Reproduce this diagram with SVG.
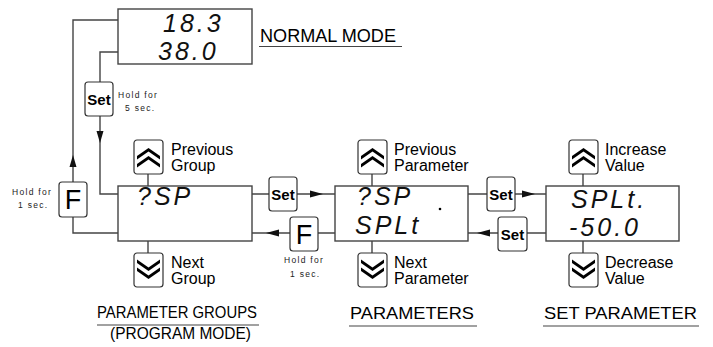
<svg xmlns="http://www.w3.org/2000/svg" xmlns:xlink="http://www.w3.org/1999/xlink" width="713" height="347" viewBox="0 0 713 347">
<style>
.box{fill:#fff;stroke:#444;stroke-width:1.4}
.btn{fill:#fff;stroke:#333;stroke-width:1.2}
.ln{fill:none;stroke:#444;stroke-width:1.4}
.seg{font-family:"Liberation Sans",Arial,sans-serif;font-style:italic;font-size:25px;fill:#111;letter-spacing:3px}
.lbl{font-family:"Liberation Sans",Arial,sans-serif;font-size:16px;fill:#000}
.cap{font-family:"Liberation Sans",Arial,sans-serif;font-size:16.5px;fill:#000}
.hold{font-family:"Liberation Sans",Arial,sans-serif;font-size:8.5px;fill:#222;letter-spacing:1.3px}
.set{font-family:"Liberation Sans",Arial,sans-serif;font-size:15px;font-weight:bold;fill:#000;text-anchor:middle}
.f{font-family:"Liberation Sans",Arial,sans-serif;font-size:27px;fill:#000;text-anchor:middle}
.ul{stroke:#444;stroke-width:1.2}
.ah{fill:#111}
</style>
<defs>
<g id="upbtn">
<rect class="btn" x="0" y="0" width="29" height="34" rx="3"/>
<polygon points="3,16 14.5,8 26,16 26,19.5 14.5,11.5 3,19.5" fill="#000"/>
<polygon points="3,24 14.5,16 26,24 26,27.5 14.5,19.5 3,27.5" fill="#000"/>
</g>
<g id="dnbtn">
<rect class="btn" x="0" y="0" width="29" height="34" rx="3"/>
<polygon points="3,6.5 14.5,14.5 26,6.5 26,10 14.5,18 3,10" fill="#000"/>
<polygon points="3,14.5 14.5,22.5 26,14.5 26,18 14.5,26 3,18" fill="#000"/>
</g>
</defs>

<g id="connectors">
<polyline class="ln" points="118,20 73,20 73,233 118,233"/>
<polyline class="ln" points="118,52 100,52 100,194 118,194"/>
<polygon class="ah" points="73,155 69.5,167 76.5,167"/>
<polygon class="ah" points="100,143 96.5,131 103.5,131"/>
<line class="ln" x1="252" y1="194" x2="335" y2="194"/>
<polygon class="ah" points="323,194 310,190.5 310,197.5"/>
<line class="ln" x1="252" y1="233" x2="335" y2="233"/>
<polygon class="ah" points="266,233 279,229.5 279,236.5"/>
<line class="ln" x1="468" y1="194" x2="546" y2="194"/>
<polygon class="ah" points="535,194 522,190.5 522,197.5"/>
<line class="ln" x1="468" y1="233" x2="546" y2="233"/>
<polygon class="ah" points="477,233 490,229.5 490,236.5"/>
<line class="ln" x1="148" y1="174" x2="148" y2="186"/>
<line class="ln" x1="148" y1="241" x2="148" y2="253"/>
<line class="ln" x1="372" y1="174" x2="372" y2="186"/>
<line class="ln" x1="372" y1="241" x2="372" y2="253"/>
<line class="ln" x1="583" y1="174" x2="583" y2="186"/>
<line class="ln" x1="583" y1="241" x2="583" y2="253"/>
</g>

<g id="normal-mode">
<rect class="box" x="118" y="9" width="134" height="55"/>
<text class="seg"><tspan x="163" y="32">18.3</tspan><tspan x="158" y="60">38.0</tspan></text>
<text class="lbl" x="260" y="41.5" font-size="17.5" style="font-size:17.5px" textLength="136" lengthAdjust="spacingAndGlyphs">NORMAL MODE</text>
<line class="ul" x1="259" y1="46.5" x2="402" y2="46.5"/>
</g>

<g id="set-hold5">
<rect class="btn" x="85" y="82" width="28" height="34" rx="3"/>
<text class="set" x="99" y="104.5">Set</text>
<text class="hold" x="118" y="98">Hold for</text>
<text class="hold" x="125" y="111">5 sec.</text>
</g>

<g id="f-hold1-left">
<rect class="btn" x="59" y="182" width="28" height="35" rx="3"/>
<text class="f" x="73" y="209">F</text>
<text class="hold" x="12" y="195">Hold for</text>
<text class="hold" x="18" y="208">1 sec.</text>
</g>

<g id="parameter-groups">
<rect class="box" x="118" y="186" width="134" height="55"/>
<text class="seg" x="137" y="205">?SP</text>
<use xlink:href="#upbtn" x="134" y="140"/>
<text class="lbl" x="171" y="155">Previous</text>
<text class="lbl" x="171" y="171">Group</text>
<use xlink:href="#dnbtn" x="134" y="253"/>
<text class="lbl" x="171" y="268">Next</text>
<text class="lbl" x="171" y="284">Group</text>
<text class="cap" x="97" y="318" textLength="160" lengthAdjust="spacingAndGlyphs">PARAMETER GROUPS</text>
<line class="ul" x1="97" y1="325" x2="259" y2="325"/>
<text class="cap" x="110" y="338.5" textLength="141" lengthAdjust="spacingAndGlyphs">(PROGRAM MODE)</text>
</g>

<g id="set-forward-1">
<rect class="btn" x="269" y="177" width="28" height="34" rx="3"/>
<text class="set" x="283" y="199.5">Set</text>
</g>

<g id="f-back">
<rect class="btn" x="290" y="217" width="28" height="34" rx="3"/>
<text class="f" x="304" y="244">F</text>
<text class="hold" x="284" y="263">Hold for</text>
<text class="hold" x="290" y="277">1 sec.</text>
</g>

<g id="parameters">
<rect class="box" x="335" y="186" width="133" height="55"/>
<text class="seg"><tspan x="357" y="205">?SP</tspan><tspan x="355" y="234">SPLt</tspan></text>
<circle cx="440" cy="209" r="1.3" fill="#000"/>
<use xlink:href="#upbtn" x="358" y="140"/>
<text class="lbl" x="394" y="155">Previous</text>
<text class="lbl" x="394" y="171">Parameter</text>
<use xlink:href="#dnbtn" x="358" y="253"/>
<text class="lbl" x="394" y="268">Next</text>
<text class="lbl" x="394" y="284">Parameter</text>
<text class="cap" x="350" y="319" textLength="124" lengthAdjust="spacingAndGlyphs">PARAMETERS</text>
<line class="ul" x1="349" y1="326" x2="477" y2="326"/>
</g>

<g id="set-forward-2">
<rect class="btn" x="487" y="177" width="28" height="34" rx="3"/>
<text class="set" x="501" y="199.5">Set</text>
</g>

<g id="set-back">
<rect class="btn" x="498" y="217" width="29" height="34" rx="3"/>
<text class="set" x="512.5" y="239.5">Set</text>
</g>

<g id="set-parameter">
<rect class="box" x="546" y="186" width="133" height="55"/>
<text class="seg"><tspan x="571" y="208">SPLt.</tspan><tspan x="569" y="236">-50.0</tspan></text>
<use xlink:href="#upbtn" x="569" y="140"/>
<text class="lbl" x="605" y="155">Increase</text>
<text class="lbl" x="605" y="171">Value</text>
<use xlink:href="#dnbtn" x="569" y="253"/>
<text class="lbl" x="605" y="268">Decrease</text>
<text class="lbl" x="605" y="284">Value</text>
<text class="cap" x="544" y="319" textLength="153" lengthAdjust="spacingAndGlyphs">SET PARAMETER</text>
<line class="ul" x1="543" y1="326" x2="699" y2="326"/>
</g>
</svg>
